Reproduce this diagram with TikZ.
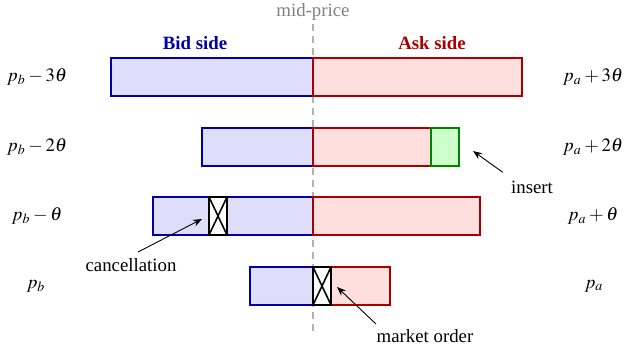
\documentclass[tikz,border=0pt]{standalone}
\usepackage{mathptmx}
\usepackage{fontspec}
\setmainfont{Liberation Serif}
\newfontfamily\timesf{Liberation Serif}
\usetikzlibrary{arrows.meta}
\definecolor{bidc}{RGB}{0,0,165}
\definecolor{bidf}{RGB}{222,222,250}
\definecolor{askc}{RGB}{170,0,0}
\definecolor{askf}{RGB}{255,222,222}
\definecolor{insc}{RGB}{0,130,0}
\definecolor{insf}{RGB}{205,255,205}
\tikzset{
  bidbox/.style={draw=bidc,fill=bidf,line width=1pt},
  askbox/.style={draw=askc,fill=askf,line width=1pt},
  insbox/.style={draw=insc,fill=insf,line width=1pt},
  xbox/.style={draw=black,fill=white,line width=1.2pt},
  lbl/.style={inner sep=1pt,font=\fontsize{9.4}{11}\timesf},
  hdr/.style={inner sep=1pt,font=\fontsize{9.4}{11}\timesf\bfseries},
  ann/.style={-{Stealth[length=4.5pt,width=3.5pt]},line width=0.45pt},
}
\begin{document}
\begin{tikzpicture}[x=0.5pt,y=-0.5pt]
\useasboundingbox (0,0) rectangle (625,347);
\node[lbl,text=gray] (mid) at (313,12) {mid-price};
\coordinate (dtop) at (313,24);
\coordinate (dbot) at (313,331);
\draw[gray!60,line width=1pt,dash pattern=on 3.5pt off 2.5pt] (dtop) -- (dbot);
\node[hdr,text=bidc] (bid) at (195,43) {Bid side};
\node[hdr,text=askc] (ask) at (432,43) {Ask side};
% row 1
\draw[bidbox] (111,58) rectangle (313,96);
\draw[askbox] (313,58) rectangle (522,96);
% row 2
\draw[bidbox] (202,128) rectangle (313,166);
\draw[askbox] (313,128) rectangle (431,166);
\draw[insbox] (431,128) rectangle (459,166);
% row 3
\draw[bidbox] (153,197) rectangle (313,235);
\draw[askbox] (313,197) rectangle (480,235);
\draw[xbox] (209,197) rectangle (227,235);
\draw[line width=0.8pt] (209,197) -- (227,235) (227,197) -- (209,235);
% row 4
\draw[bidbox] (250,267) rectangle (313,305);
\draw[askbox] (331,267) rectangle (390,305);
\draw[xbox] (313,267) rectangle (331,305);
\draw[line width=0.8pt] (313,267) -- (331,305) (331,267) -- (313,305);
% price labels
\node[lbl] (l3) at (37,77) {$p_b-3\theta$};
\node[lbl] (l2) at (37,147) {$p_b-2\theta$};
\node[lbl] (l1) at (37,216) {$p_b-\theta$};
\node[lbl] (l0) at (36,286) {$p_b$};
\node[lbl] (r3) at (593,77) {$p_a+3\theta$};
\node[lbl] (r2) at (593,147) {$p_a+2\theta$};
\node[lbl] (r1) at (593,216) {$p_a+\theta$};
\node[lbl] (r0) at (594,286) {$p_a$};
% annotations
\node[lbl] (ins) at (532,187) {insert};
\coordinate (insT) at (473,151);
\draw[ann] (ins.north west) ++(-6,-6) coordinate (insS) -- (insT);
\node[lbl] (can) at (131,265) {cancellation};
\coordinate (canT) at (202,219);
\coordinate (canS) at (138,252);
\draw[ann] (canS) -- (canT);
\node[lbl] (mkt) at (425,336) {market order};
\coordinate (mktT) at (337,287);
\coordinate (mktS) at (376,324);
\draw[ann] (mktS) -- (mktT);
\end{tikzpicture}
\end{document}
